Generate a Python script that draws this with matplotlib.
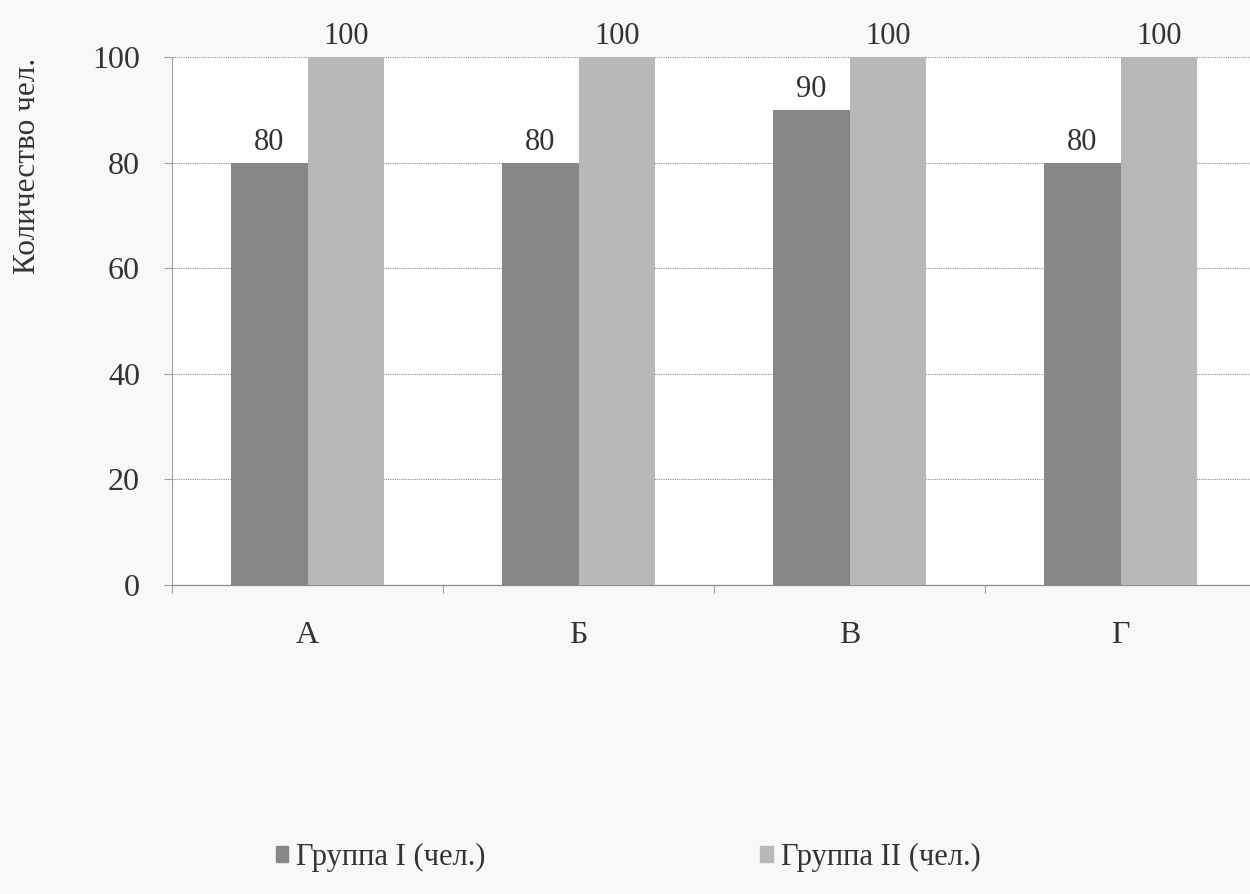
# Столбчатая диаграмма: количество человек по группам
import matplotlib.pyplot as plt
import numpy as np
from matplotlib.patches import Patch

categories = ['А', 'Б', 'В', 'Г']
group1 = [80, 80, 90, 80]
group2 = [100, 100, 100, 100]
series_names = ['Группа I (чел.)', 'Группа II (чел.)']
y_ticks = [0, 20, 40, 60, 80, 100]

plt.rcParams['font.family'] = ['Liberation Serif', 'DejaVu Serif']

bg = '#f8f9f6'
c1 = '#878787'
c2 = '#b8b8b8'

fig = plt.figure(figsize=(12.5, 8.94), dpi=100, facecolor=bg)
# область графика уходит немного за правый край (как на скане)
ax = fig.add_axes([0.1376, 0.3456, 0.8672, 0.5906], facecolor='white')

x = np.arange(len(categories))
w = 0.282
b1 = ax.bar(x - w / 2, group1, w, color=c1, zorder=3)
b2 = ax.bar(x + w / 2, group2, w, color=c2, zorder=3)

# подписи значений над столбцами
for bars in (b1, b2):
    for rect in bars:
        h = rect.get_height()
        ax.annotate(f'{h:g}', (rect.get_x() + rect.get_width() / 2, h),
                    xytext=(0, 4), textcoords='offset points',
                    ha='center', va='bottom', fontsize=22, color='#333333')

ax.set_xlim(-0.5, len(categories) - 0.5)
ax.set_ylim(0, 100)
ax.set_yticks(y_ticks)
ax.set_xticks(x)
ax.set_xticklabels(categories)
ax.set_xticks(np.arange(len(categories) + 1) - 0.5, minor=True)

ax.grid(axis='y', color='#8c8c8c', linewidth=0.8, linestyle=(0, (1, 1)), zorder=0)
for s in ('top', 'right'):
    ax.spines[s].set_visible(False)
ax.spines['left'].set_color('#a0a0a0')
ax.spines['left'].set_linestyle((0, (1, 1)))
ax.spines['left'].set_linewidth(0.8)
ax.spines['bottom'].set_color('#8c8c8c')
ax.spines['bottom'].set_linewidth(0.9)

ax.tick_params(axis='y', length=6, width=0.8, color='#a0a0a0', pad=17,
               labelsize=23, labelcolor='#333333')
ax.tick_params(axis='x', which='major', length=0, pad=26,
               labelsize=23, labelcolor='#333333')
ax.tick_params(axis='x', which='minor', length=6, width=0.8, color='#a0a0a0')

fig.text(28 / 1250, 1 - 166 / 894, 'Количество чел.', rotation=90,
         ha='center', va='center', fontsize=22.5, color='#333333')

handles = [Patch(color=c1), Patch(color=c2)]
fig.legend(handles, series_names, loc='center left', ncol=2,
           bbox_to_anchor=(248 / 1250, 1 - 857 / 894), frameon=False,
           fontsize=22, handlelength=0.42, handleheight=0.42,
           handletextpad=0.25, columnspacing=9.0, labelcolor='#333333')

fig.savefig('out.png', dpi=100, facecolor=bg)
